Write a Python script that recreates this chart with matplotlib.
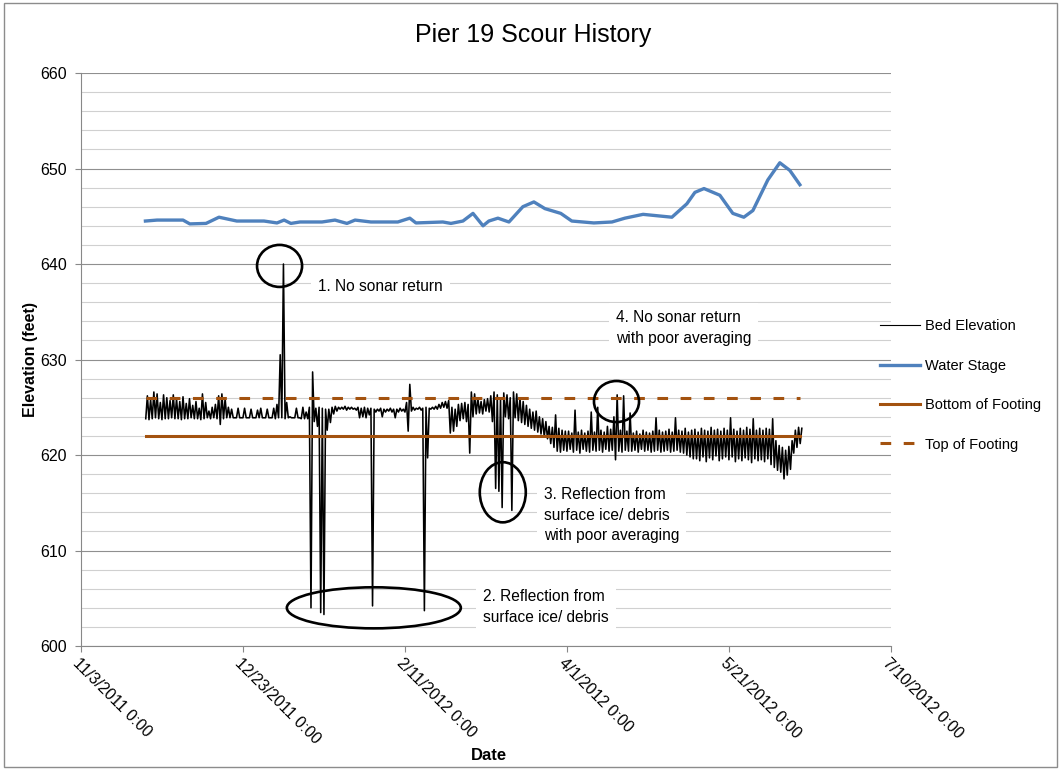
import matplotlib
matplotlib.use('Agg')
import matplotlib.pyplot as plt
from matplotlib.patches import Ellipse, Rectangle

plt.rcParams['font.family'] = ['Liberation Sans', 'DejaVu Sans']

# x values are days after 11/3/2011
tick_days = [0, 50, 100, 150, 200, 250]
tick_labels = ['11/3/2011 0:00', '12/23/2011 0:00', '2/11/2012 0:00',
               '4/1/2012 0:00', '5/21/2012 0:00', '7/10/2012 0:00']
y_ticks = [600, 610, 620, 630, 640, 650, 660]

# bed elevation, one low / high reading per day starting at day 20 (11/23/2011)
bed_first_day = 20
bed_hi = [
    626.2, 625.8, 626.6, 626.4, 625.5, 626.3, 626.0, 625.7, 626.3, 625.9,
    625.6, 626.1, 625.4, 625.9, 625.2, 625.6, 624.9, 626.4, 625.5, 624.6,
    625.0, 625.3, 626.2, 626.4, 625.9, 625.0, 624.8, 623.9, 624.9, 623.9,
    624.9, 623.9, 624.8, 623.9, 624.7, 624.9, 623.9, 624.8, 623.9, 624.9,
    625.3, 630.5, 640.0, 625.5, 624.0, 623.9, 624.9, 623.9, 625.0, 624.5,
    625.0, 628.7, 624.9, 625.0, 624.9, 624.8, 624.8, 625.0, 625.1, 625.0,
    625.0, 625.1, 625.0, 625.0, 624.9, 625.0, 624.9, 625.0, 624.9, 624.9,
    624.8, 624.8, 624.9, 624.8, 624.8, 624.9, 624.8, 624.8, 624.9, 624.8,
    625.5, 627.4, 625.0, 624.9, 625.0, 624.9, 625.0, 624.9, 625.0, 625.1,
    625.3, 625.5, 625.6, 625.7, 625.0, 624.8, 625.3, 625.4, 625.5, 625.3,
    626.6, 626.4, 626.0, 625.6, 625.8, 625.9, 626.2, 626.6, 626.3, 626.0,
    626.5, 626.3, 626.0, 626.6, 626.4, 626.0, 625.6, 625.2, 624.8, 624.5,
    624.6, 624.0, 623.8, 623.5, 623.0, 622.9, 624.2, 622.8, 622.6, 622.5,
    622.5, 622.3, 624.7, 622.4, 622.6, 622.3, 622.5, 624.5, 622.4, 625.0,
    622.6, 622.4, 623.0, 622.7, 624.0, 626.3, 622.6, 626.2, 622.5, 624.4,
    622.3, 622.5, 622.2, 622.6, 622.4, 622.3, 622.5, 623.9, 622.6, 622.4,
    622.5, 622.7, 622.4, 623.9, 622.6, 622.5, 622.8, 622.4, 622.6, 622.7,
    622.4, 622.8, 622.6, 622.5, 622.9, 622.6, 622.7, 622.5, 622.8, 622.6,
    623.9, 622.7, 622.5, 622.8, 622.6, 622.9, 622.7, 623.8, 622.6, 622.8,
    622.6, 622.8, 622.7, 623.8, 621.5, 621.0, 620.8, 620.5, 620.9, 621.5,
    622.6, 622.9, 622.8,
]
bed_lo = [
    623.8, 623.7, 623.8, 623.9, 623.8, 623.7, 623.8, 623.8, 623.9, 623.8,
    623.8, 623.7, 623.8, 623.8, 623.9, 623.8, 623.8, 623.7, 623.8, 623.9,
    623.8, 623.9, 623.8, 623.2, 623.8, 623.9, 623.9, 623.9, 623.9, 623.9,
    623.9, 623.9, 623.9, 623.9, 623.9, 623.9, 623.9, 623.9, 623.9, 623.9,
    623.8, 623.9, 623.9, 623.8, 623.9, 623.9, 623.9, 623.9, 623.8, 623.8,
    623.8, 604.0, 623.5, 623.0, 603.5, 603.3, 622.6, 623.4, 624.3, 624.6,
    624.8, 624.8, 624.7, 624.8, 624.8, 624.7, 623.9, 624.0, 623.9, 624.2,
    604.2, 624.5, 624.6, 624.0, 624.5, 624.6, 624.5, 623.9, 624.5, 624.6,
    624.5, 622.5, 624.6, 624.7, 624.8, 624.7, 603.7, 619.7, 624.8, 624.8,
    624.8, 624.9, 625.0, 624.9, 622.3, 622.5, 623.0, 623.6, 623.8, 623.5,
    620.2, 624.0, 624.3, 624.4, 624.3, 624.6, 624.5, 623.5, 616.5, 616.2,
    614.5, 624.0, 623.8, 614.2, 623.9, 623.6, 623.4, 623.2, 623.0, 622.8,
    622.6, 622.4, 622.2, 621.9, 621.7, 621.2, 620.8, 620.4, 620.3, 620.5,
    620.4, 620.6, 620.3, 620.5, 620.2, 620.6, 620.4, 620.3, 620.5, 620.4,
    620.5, 620.3, 620.6, 620.4, 620.5, 619.5, 620.4, 620.3, 620.5, 620.4,
    620.4, 620.5, 620.3, 620.6, 620.4, 620.5, 620.3, 620.4, 620.5, 620.3,
    620.4, 620.5, 620.3, 620.4, 620.5, 620.3, 620.2, 620.0, 619.8, 619.6,
    619.6, 619.4, 619.8, 619.3, 619.7, 619.5, 619.9, 619.4, 619.6, 619.8,
    619.5, 619.8, 619.3, 619.6, 619.4, 619.7, 619.5, 619.2, 619.6, 619.4,
    619.5, 619.3, 619.6, 619.0, 618.7, 618.4, 618.2, 617.5, 617.9, 618.5,
    620.2, 620.8, 621.2,
]

water_day = [19.9, 23.5, 31.5, 33.6, 38.6, 42.6, 48.1, 56.5, 60.5, 62.7,
             64.8, 67.6, 74.4, 78.4, 82.1, 84.6, 89.5, 97.8, 101.5, 103.4,
             111.7, 114.2, 117.9, 121.0, 124.1, 125.9, 128.7, 132.1, 136.4, 139.8,
             143.2, 148.1, 151.5, 158.3, 163.9, 167.9, 173.5, 182.4, 187.0, 189.5,
             192.3, 197.2, 201.2, 204.6, 207.4, 212.0, 215.7, 218.8, 221.9]
water_ft = [644.5, 644.6, 644.6, 644.2, 644.25, 644.9, 644.5, 644.5, 644.3, 644.6,
            644.25, 644.4, 644.4, 644.6, 644.25, 644.6, 644.4, 644.4, 644.8, 644.3,
            644.4, 644.25, 644.5, 645.3, 644.0, 644.5, 644.8, 644.4, 646.0, 646.5,
            645.8, 645.3, 644.5, 644.3, 644.4, 644.8, 645.2, 644.9, 646.3, 647.5,
            647.9, 647.2, 645.3, 644.9, 645.6, 648.8, 650.6, 649.8, 648.3]

footing_day = [20, 222]
bottom_footing = [622, 622]
top_footing = [626, 626]

brown = '#A3520F'
blue = '#4F81BD'

fig = plt.figure(figsize=(10.61, 7.70), dpi=100)
ax = fig.add_axes([0.0763, 0.161, 0.7634, 0.7442])

# low at start of day, high half a day later -> dense spiky trace
bed_x, bed_y = [], []
for i, (lo, hi) in enumerate(zip(bed_lo, bed_hi)):
    bed_x += [bed_first_day + i, bed_first_day + i + 0.5]
    bed_y += [lo, hi]

ax.plot(bed_x, bed_y, color='black', lw=1.15, label='Bed Elevation', zorder=3)
ax.plot(water_day, water_ft, color=blue, lw=2.4, label='Water Stage', zorder=3)
ax.plot(footing_day, bottom_footing, color=brown, lw=2.2, label='Bottom of Footing', zorder=4)
ax.plot(footing_day, top_footing, color=brown, lw=2.2, dashes=(3.5, 4.1),
        label='Top of Footing', zorder=4)

ax.set_xlim(0, 250)
ax.set_ylim(600, 660)
ax.set_xticks(tick_days)
ax.set_xticklabels(tick_labels, rotation=-45, rotation_mode='anchor',
                   ha='left', va='top', fontsize=11.5)
ax.set_yticks(y_ticks)
ax.set_yticks(range(600, 661, 2), minor=True)
ax.tick_params(axis='y', which='major', labelsize=11.5, length=4, color='#888888', pad=6)
ax.tick_params(axis='y', which='minor', length=0)
ax.tick_params(axis='x', length=4, color='#888888', pad=3)

ax.grid(axis='y', which='major', color='#8f8f8f', lw=0.8)
ax.grid(axis='y', which='minor', color='#d0d0d0', lw=0.8)
ax.set_axisbelow(True)
for s in ['top', 'right']:
    ax.spines[s].set_visible(False)
for s in ['left', 'bottom']:
    ax.spines[s].set_color('#888888')
    ax.spines[s].set_linewidth(0.8)

# callout ellipses
ell_kw = dict(fill=False, edgecolor='black', lw=1.9, zorder=5)
ax.add_patch(Ellipse((61.3, 639.8), 13.9, 4.4, **ell_kw))
ax.add_patch(Ellipse((90.4, 604.0), 53.7, 4.3, **ell_kw))
ax.add_patch(Ellipse((130.2, 616.1), 14.2, 6.3, **ell_kw))
ax.add_patch(Ellipse((165.3, 625.6), 13.9, 4.3, **ell_kw))

box = dict(facecolor='white', edgecolor='none', pad=5)
txt_kw = dict(fontsize=11.2, ha='left', va='center', linespacing=1.45, bbox=box, zorder=2)
ax.text(73.1, 637.6, '1. No sonar return', **txt_kw)
ax.text(165.1, 633.3, '4. No sonar return\nwith poor averaging', **txt_kw)
ax.text(142.9, 613.7, '3. Reflection from\nsurface ice/ debris\nwith poor averaging', **txt_kw)
ax.text(124.1, 604.1, '2. Reflection from\nsurface ice/ debris', **txt_kw)

fig.text(0.5025, 0.9545, 'Pier 19 Scour History', ha='center', va='center', fontsize=18)
fig.text(30 / 1061, 1 - 360 / 770, 'Elevation (feet)', rotation=90, ha='center', va='center',
         fontsize=11.5, fontweight='bold')
fig.text(489 / 1061, 1 - 755 / 770, 'Date', ha='center', va='center',
         fontsize=12, fontweight='bold')

leg = fig.legend(loc='center left', bbox_to_anchor=(880 / 1061, 0.4994), frameon=False,
                 fontsize=10.5, handlelength=2.74, handletextpad=0.34, labelspacing=1.74,
                 borderpad=0, borderaxespad=0)
# thin handle for the bed trace, like the original legend
leg.get_lines()[0].set_linewidth(0.8)

fig.add_artist(Rectangle((4 / 1061, 3 / 770), 1053 / 1061, 764 / 770,
                         transform=fig.transFigure, fill=False,
                         edgecolor='#8c8c8c', lw=1))

fig.savefig('out.png', dpi=100)
